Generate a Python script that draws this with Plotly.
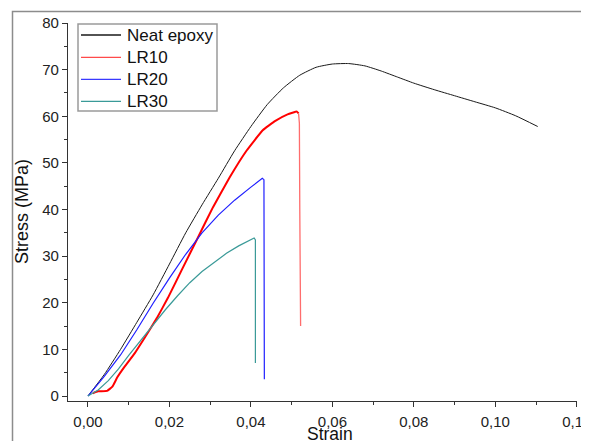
import plotly.graph_objects as go

# ---- data ----
neat_strain = [0, 0.004, 0.008, 0.012, 0.016, 0.020, 0.024, 0.028, 0.032, 0.036, 0.040,
               0.044, 0.048, 0.052, 0.056, 0.060, 0.064, 0.068, 0.072, 0.076, 0.080,
               0.085, 0.090, 0.095, 0.100, 0.105, 0.1104]
neat_stress = [0, 4.6, 10.0, 15.8, 21.7, 28.3, 35.0, 41.0, 46.7, 52.6, 57.8,
               62.5, 66.1, 68.8, 70.5, 71.2, 71.3, 70.8, 69.7, 68.4, 67.1,
               65.7, 64.4, 63.1, 61.8, 60.1, 57.8]

lr10_strain = [0.0012, 0.0025, 0.0047, 0.0060, 0.0072, 0.009, 0.0115, 0.014, 0.0169,
               0.0196, 0.023, 0.027, 0.0307, 0.0348, 0.039, 0.0429, 0.046, 0.049,
               0.0513, 0.0517, 0.0519, 0.0520, 0.0522]
lr10_stress = [0.6, 1.0, 1.1, 2.0, 4.0, 6.3, 9.2, 12.6, 16.7,
               21.0, 27.0, 34.0, 40.5, 46.9, 52.7, 57.0, 59.0, 60.4,
               61.0, 60.6, 58.5, 40.0, 15.0]
lr10_break = 19  # index where the sudden drop starts

lr20_strain = [0, 0.004, 0.008, 0.012, 0.016, 0.020, 0.024, 0.028, 0.032, 0.036, 0.040,
               0.0428, 0.0432, 0.0433]
lr20_stress = [0, 4.2, 8.8, 14.2, 19.9, 25.3, 30.4, 35.0, 38.8, 42.0, 44.8,
               46.7, 46.4, 3.6]

lr30_strain = [0, 0.0025, 0.005, 0.0075, 0.010, 0.013, 0.016, 0.019, 0.022, 0.025,
               0.028, 0.031, 0.034, 0.037, 0.040, 0.0408, 0.0411, 0.0411]
lr30_stress = [0, 1.3, 3.3, 5.8, 8.7, 12.0, 15.2, 18.5, 21.5, 24.3,
               26.7, 28.7, 30.6, 32.2, 33.6, 33.9, 33.5, 7.1]

series_names = ["Neat epoxy", "LR10", "LR20", "LR30"]
x_ticks = [0.00, 0.02, 0.04, 0.06, 0.08, 0.10, 0.12]
y_ticks = [0, 10, 20, 30, 40, 50, 60, 70, 80]
x_title = "Strain"
y_title = "Stress (MPa)"

FONT = "Liberation Sans, Arial, sans-serif"
COLORS = ["#1a1a1a", "#ff0000", "#1f1fff", "#3a9a98"]
LEGEND_COLORS = ["#1a1a1a", "#ff4a4a", "#3a3aff", "#3a9a98"]

# plot-area geometry in window pixels (page body adds an 8px offset)
PX_L, PX_R, PX_T, PX_B = 68, 577, 23, 401


def px_x(p):
    return (p - PX_L) / (PX_R - PX_L)


def px_y(p):
    return (PX_B - p) / (PX_B - PX_T)


fig = go.Figure()
fig.add_trace(go.Scatter(x=neat_strain, y=neat_stress, mode="lines", name=series_names[0],
                         line=dict(color=COLORS[0], width=1, shape="spline", smoothing=0.5)))
fig.add_trace(go.Scatter(x=lr10_strain[:lr10_break + 1], y=lr10_stress[:lr10_break + 1],
                         mode="lines", name=series_names[1],
                         line=dict(color=COLORS[1], width=2, shape="spline", smoothing=0.3)))
fig.add_trace(go.Scatter(x=lr10_strain[lr10_break:], y=lr10_stress[lr10_break:],
                         mode="lines", name=series_names[1],
                         line=dict(color="rgba(255,60,60,0.75)", width=1.3)))
fig.add_trace(go.Scatter(x=lr20_strain, y=lr20_stress, mode="lines", name=series_names[2],
                         line=dict(color=COLORS[2], width=1.2)))
fig.add_trace(go.Scatter(x=lr30_strain, y=lr30_stress, mode="lines", name=series_names[3],
                         line=dict(color=COLORS[3], width=1.2)))

axis_common = dict(
    showline=True, linecolor="#333333", linewidth=1.3, mirror=False,
    showgrid=False, zeroline=False, automargin=False,
    ticks="outside", ticklen=5, tickwidth=1.2, tickcolor="#333333",
    tickfont=dict(family=FONT, size=15, color="#222222"),
    ticklabeloverflow="allow",
)

# legend drawn as a framed box with line samples and labels
legend_rows_px = [35, 57.3, 79.3, 101.3]
shapes = [
    dict(type="rect", xref="paper", yref="paper",
         x0=px_x(12.5), x1=1.2, y0=-0.3, y1=px_y(11.5),
         line=dict(color="#8c8c8c", width=1.5), fillcolor="rgba(0,0,0,0)", layer="below"),
    dict(type="rect", xref="paper", yref="paper",
         x0=px_x(78), x1=px_x(217), y0=px_y(111), y1=px_y(24),
         line=dict(color="#9a9a9a", width=1.5), fillcolor="white", layer="above"),
]
annotations = [
    dict(text=x_title, xref="paper", yref="paper", x=px_x(330), y=px_y(434),
         xanchor="center", yanchor="middle", showarrow=False, borderpad=0,
         font=dict(family=FONT, size=17.5, color="#111111")),
    dict(text=y_title, xref="paper", yref="paper", x=px_x(22), y=0.5, textangle=-90,
         xanchor="center", yanchor="middle", showarrow=False,
         font=dict(family=FONT, size=18, color="#111111")),
]
for name, color, row in zip(series_names, LEGEND_COLORS, legend_rows_px):
    shapes.append(dict(type="line", xref="paper", yref="paper",
                       x0=px_x(81), x1=px_x(121), y0=px_y(row), y1=px_y(row),
                       line=dict(color=color, width=1.3), layer="above"))
    annotations.append(dict(text=name, xref="paper", yref="paper", x=px_x(125), y=px_y(row + 0.5),
                            xanchor="left", yanchor="middle", showarrow=False,
                            font=dict(family=FONT, size=17, color="#111111")))

fig.update_layout(
    width=581, height=433,
    margin=dict(l=60, r=12, t=15, b=40),
    paper_bgcolor="white", plot_bgcolor="white",
    separators=", ",
    font=dict(family=FONT, color="#111111"),
    showlegend=False,
    xaxis=dict(
        range=[-0.0049, 0.12005], tickvals=x_ticks, tickformat=".2f", ticklabelstandoff=2,
        minor=dict(dtick=0.01, tick0=0, ticks="outside", ticklen=3, tickwidth=1, tickcolor="#333333"),
        **axis_common,
    ),
    yaxis=dict(
        range=[-1.07, 80], tickvals=y_ticks,
        minor=dict(dtick=5, tick0=0, ticks="outside", ticklen=3, tickwidth=1, tickcolor="#333333"),
        **axis_common,
    ),
    annotations=annotations,
    shapes=shapes,
)

fig.write_html("out.html")
